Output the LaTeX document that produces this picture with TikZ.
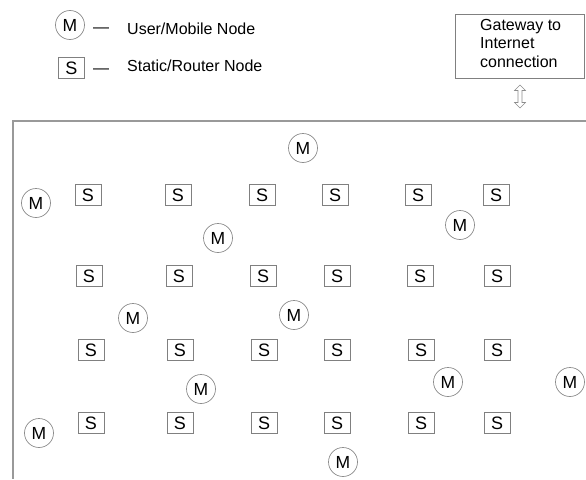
\documentclass[tikz,border=0pt]{standalone}
\usepackage{fontspec}
\setmainfont{Liberation Sans}
\begin{document}
\begin{tikzpicture}[x=1pt,y=-1pt,
  mnode/.style={circle,draw=black!45,line width=0.7pt,minimum size=29pt,inner sep=0pt,font=\fontsize{17.5}{18}\selectfont},
  snode/.style={rectangle,draw=black!50,line width=0.8pt,minimum width=26pt,minimum height=21pt,inner sep=0pt,font=\fontsize{18}{18}\selectfont},
  lbl/.style={anchor=base west,inner sep=0pt,font=\fontsize{16}{18}\selectfont},
  framel/.style={draw=black!40,line width=1.4pt}]
\useasboundingbox (0,0) rectangle (586,479);
% legend
\node[mnode] (lm) at (70,25) {M};
\node[lbl] (lmd) at (93,32) {—};
\node[lbl] (lmt) at (127,34) {User/Mobile Node};
\node[snode] (ls) at (71.5,68) {S};
\node[lbl] (lsd) at (93,73) {—};
\node[lbl] (lst) at (127,71) {Static/Router Node};
% gateway
\node[draw=black!50,line width=0.8pt,minimum width=129pt,minimum height=64pt,inner sep=0pt] (gw) at (519.5,46) {};
\node[anchor=north west,inner sep=0pt,align=left,font=\fontsize{16}{18.5}\selectfont] (gwt) at (480,19) {Gateway to\\Internet\\connection};
% double arrow
\draw[draw=black!45,fill=white,line width=0.6pt] (520,85) -- (525.5,90.5) -- (522,90.5) -- (522,102.5) -- (525.5,102.5) -- (520,108) -- (514.5,102.5) -- (518,102.5) -- (518,90.5) -- (514.5,90.5) -- cycle;
% frame
\coordinate (ftl) at (13,121);
\coordinate (ftr) at (586,121);
\coordinate (fbl) at (13,479);
\draw[framel] (ftr) -- (ftl) -- (fbl);
% static nodes
\foreach \r/\y/\xa/\xb/\xc/\xd/\xe/\xf in {1/195/88/178/262/335/418/496, 2/276/89/179/263/337/420/497, 3/350/91/180/264/337/421/497, 4/423/91/180/264/337/421/497}{
  \node[snode] (s\r a) at (\xa,\y) {S};
  \node[snode] (s\r b) at (\xb,\y) {S};
  \node[snode] (s\r c) at (\xc,\y) {S};
  \node[snode] (s\r d) at (\xd,\y) {S};
  \node[snode] (s\r e) at (\xe,\y) {S};
  \node[snode] (s\r f) at (\xf,\y) {S};
}
% mobile nodes
\node[mnode] (m1) at (303,148) {M};
\node[mnode] (m2) at (36,203) {M};
\node[mnode] (m3) at (218,238) {M};
\node[mnode] (m4) at (460,225) {M};
\node[mnode] (m5) at (133,318) {M};
\node[mnode] (m6) at (294,315) {M};
\node[mnode] (m7) at (201,389) {M};
\node[mnode] (m8) at (448,382) {M};
\node[mnode] (m9) at (570,382) {M};
\node[mnode] (m10) at (39,433) {M};
\node[mnode] (m11) at (343,462) {M};
\end{tikzpicture}
\end{document}
